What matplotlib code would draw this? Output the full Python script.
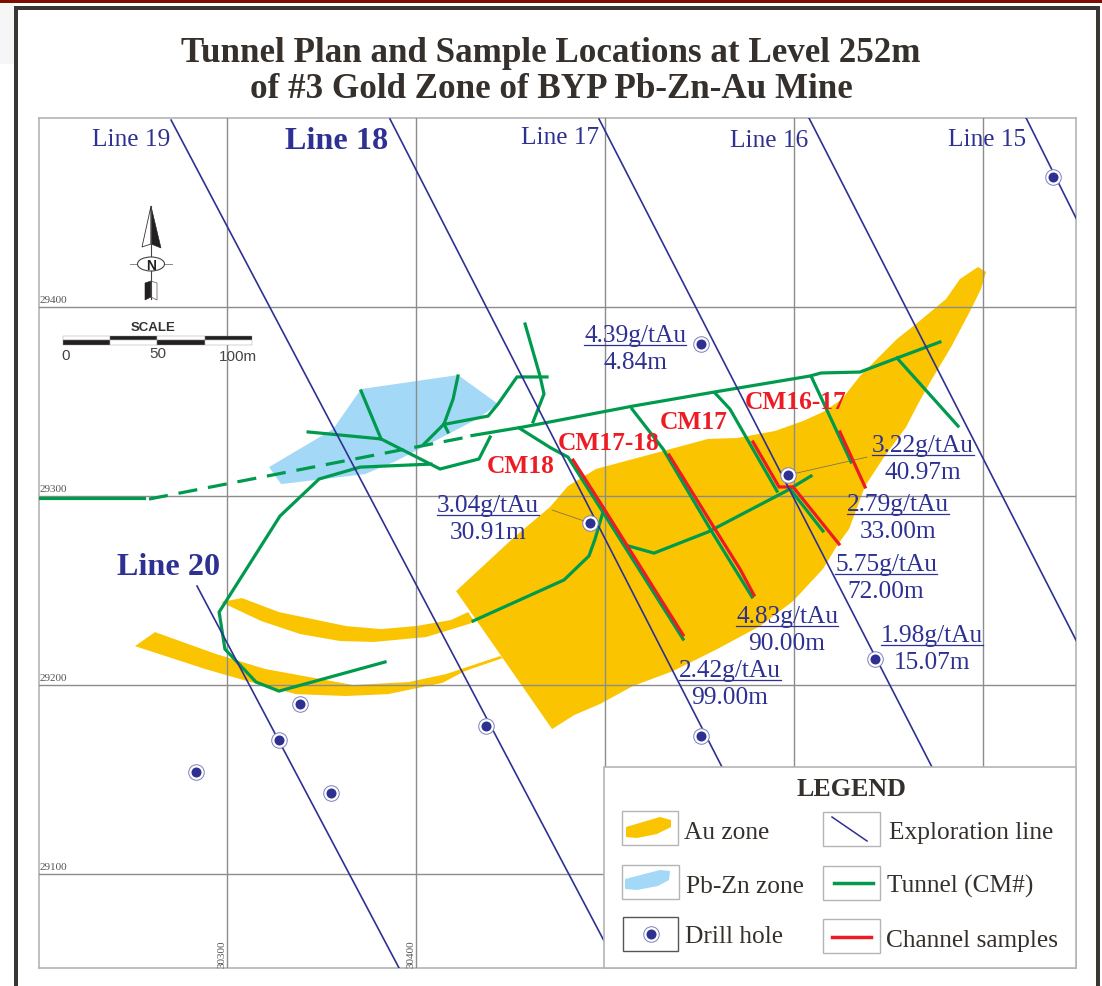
import matplotlib
matplotlib.use('Agg')
import matplotlib.pyplot as plt
from matplotlib.patches import Polygon, Rectangle, Ellipse

plt.rcParams['font.family'] = ['Liberation Serif', 'DejaVu Serif']

# all map coordinates are mine grid metres (easting, northing)
eastings = [30300, 30400, 30500, 30600, 30700]
northings = [29100, 29200, 29300, 29400]
easting_labels = ['30300', '30400']
northing_labels = ['29100', '29200', '29300', '29400']

au_main = [(30697.4, 29421.2), (30701.6, 29418.5), (30698.9, 29409.5), (30693.7, 29398.9), (30683.1, 29378.8),
           (30673.0, 29361.9), (30665.6, 29348.7), (30659.3, 29336.5), (30647.6, 29320.6), (30637.6, 29305.3),
           (30629.1, 29282.5), (30623.3, 29274.6), (30615.3, 29261.4), (30599.5, 29244.4), (30582.0, 29231.2),
           (30559.3, 29219.0), (30536.0, 29207.4), (30514.8, 29199.5), (30497.4, 29190.0), (30483.6, 29184.1),
           (30472.0, 29176.7), (30421.2, 29249.7), (30450.8, 29277.2), (30470.9, 29294.2), (30480.4, 29305.3),
           (30495.2, 29314.3), (30554.5, 29330.2), (30569.8, 29330.7), (30589.9, 29334.4), (30604.8, 29339.7),
           (30616.4, 29345.0), (30625.4, 29351.3), (30634.9, 29363.5), (30654.5, 29383.1), (30664.5, 29391.0),
           (30680.4, 29404.2), (30687.8, 29414.8)]
au_upper = [(30296.8, 29243.9), (30307.9, 29246.0), (30327.5, 29238.6), (30363.0, 29231.2), (30381.5, 29229.6),
            (30400.0, 29231.2), (30418.5, 29234.4), (30427.5, 29238.6), (30431.2, 29233.3), (30405.3, 29225.4),
            (30377.8, 29222.8), (30359.8, 29223.3), (30338.6, 29227.0), (30318.0, 29233.9)]
au_lower = [(30251.3, 29220.6), (30261.9, 29228.0), (30294.2, 29216.4), (30320.1, 29208.5), (30366.7, 29200.0),
            (30396.3, 29201.6), (30415.9, 29205.8), (30444.4, 29215.3), (30446.0, 29214.3), (30425.9, 29207.4),
            (30413.8, 29201.1), (30385.2, 29195.2), (30363.0, 29194.2), (30336.5, 29195.2), (30310.6, 29202.1),
            (30288.4, 29208.5)]
pbzn_zone = [(30370.9, 29356.6), (30422.2, 29364.0), (30443.4, 29348.7), (30432.3, 29340.7), (30389.4, 29318.5),
             (30373.0, 29311.6), (30328.6, 29306.3), (30322.2, 29315.3), (30356.1, 29335.4)]

tunnels = [
    [(30200.5, 29298.9), (30256.1, 29298.9)],
    [(30429.6, 29332.0), (30456.6, 29336.5), (30470.9, 29339.2), (30514.8, 29347.6), (30557.7, 29355.0),
     (30608.5, 29363.5), (30614.3, 29365.1), (30634.9, 29365.6), (30654.5, 29373.0), (30677.2, 29381.5)],
    [(30654.5, 29373.0), (30686.8, 29337.0)],
    [(30609.0, 29363.5), (30630.2, 29318.0)],
    [(30558.2, 29354.5), (30566.1, 29346.0), (30591.0, 29302.6)],
    [(30597.9, 29303.7), (30615.3, 29281.5)],
    [(30609.0, 29310.6), (30595.8, 29302.6), (30554.5, 29281.0), (30525.9, 29269.8), (30510.6, 29274.1)],
    [(30514.3, 29346.0), (30530.7, 29324.9), (30556.6, 29281.0), (30567.7, 29263.0), (30577.8, 29246.6)],
    [(30454.5, 29336.0), (30471.4, 29325.4), (30480.4, 29320.6), (30498.9, 29291.5), (30541.3, 29224.3)],
    [(30498.9, 29291.5), (30494.7, 29277.2), (30491.5, 29268.3), (30478.3, 29255.6), (30430.2, 29233.9)],
    [(30457.7, 29391.0), (30465.6, 29363.5), (30467.7, 29354.0), (30461.9, 29339.2)],
    [(30469.3, 29363.0), (30453.4, 29363.0), (30443.4, 29348.7), (30438.1, 29342.3), (30415.9, 29338.1)],
    [(30422.2, 29363.5), (30419.6, 29351.3), (30414.8, 29338.1), (30404.2, 29327.5)],
    [(30414.8, 29338.1), (30416.9, 29333.9)],
    [(30370.9, 29355.6), (30381.5, 29330.2)],
    [(30342.9, 29333.9), (30381.5, 29330.2), (30412.7, 29314.3), (30433.3, 29319.6), (30439.2, 29331.2)],
    [(30407.9, 29316.9), (30370.4, 29315.3), (30348.7, 29309.0), (30328.0, 29289.4), (30295.8, 29238.6),
     (30298.9, 29219.0), (30315.3, 29201.6), (30327.5, 29196.8), (30383.6, 29212.2)],
]
tunnel_dashed = [(30258.7, 29298.4), (30429.6, 29331.7)]

channels = [
    [(30483.1, 29319.0), (30498.9, 29294.2), (30541.3, 29226.5)],
    [(30533.9, 29321.7), (30558.2, 29282.5), (30571.4, 29261.4), (30578.8, 29247.6)],
    [(30578.3, 29328.6), (30592.1, 29304.8), (30599.5, 29304.8), (30623.8, 29274.6)],
    [(30624.3, 29333.9), (30637.6, 29304.8)],
]

exploration_lines = [
    [(30270.4, 29498.9), (30499.5, 29064.6)],
    [(30386.2, 29499.5), (30561.9, 29156.6)],
    [(30496.8, 29499.5), (30673.0, 29156.6)],
    [(30607.9, 29500.0), (30749.7, 29222.8)],
    [(30722.8, 29500.0), (30749.2, 29447.1)],
    [(30284.1, 29252.4), (30391.0, 29050.3)],
]
line_names = ['Line 19', 'Line 18', 'Line 17', 'Line 16', 'Line 15', 'Line 20']
line_name_e = [30249.0, 30358.0, 30476.2, 30586.8, 30702.1, 30268.8]
line_name_n = [29488.8, 29487.9, 29490.0, 29488.4, 29489.0, 29262.5]
line_name_bold = [False, True, False, False, False, True]

hole_e = [30737.0, 30550.8, 30596.8, 30492.1, 30642.9, 30550.8, 30437.0, 30338.6, 30327.5, 30283.6, 30355.0]
hole_n = [29468.8, 29380.4, 29311.1, 29285.7, 29213.8, 29173.0, 29178.3, 29190.0, 29170.9, 29154.0, 29142.9]
leaders = [[(30596.8, 29311.1), (30638.6, 29320.6)], [(30492.1, 29285.7), (30472.0, 29292.6)]]

grades = ['4.39g/tAu', '3.22g/tAu', '2.79g/tAu', '5.75g/tAu', '4.83g/tAu', '1.98g/tAu', '2.42g/tAu', '3.04g/tAu']
widths = ['4.84m', '40.97m', '33.00m', '72.00m', '90.00m', '15.07m', '99.00m', '30.91m']
assay_e = [30515.9, 30668.3, 30654.8, 30648.7, 30596.3, 30673.0, 30566.1, 30438.1]
assay_n = [29379.9, 29321.7, 29290.5, 29258.7, 29231.2, 29221.2, 29202.6, 29290.0]

cm_names = ['CM18', 'CM17-18', 'CM17', 'CM16-17']
cm_e = [30455.6, 30502.1, 30547.1, 30601.1]
cm_n = [29315.9, 29328.1, 29339.2, 29349.8]

scale_start = 30213.2
scale_step = 25

NAVY = '#2e3192'
GREEN = '#009a4e'
RED = '#ed1c24'
GOLD = '#fac400'
BLUE = '#a3d9f6'
INK = '#35302c'

fig = plt.figure(figsize=(11.02, 9.87), dpi=100)
ax = fig.add_axes([39/1102, 1-969/987, (1076-39)/1102, 850/987])
ax.set_xlim(30200.5, 30749.2)
ax.set_ylim(29050.3, 29500)
ax.set_xticks(eastings)
ax.set_yticks(northings)
ax.set_xticklabels([])
ax.set_yticklabels([])
ax.tick_params(length=0)
ax.set_axisbelow(False)
ax.grid(color='#8c8c8c', lw=1.0)
for s in ax.spines.values():
    s.set_color('#b4b4b4')
    s.set_linewidth(1.2)

for poly in [au_main, au_upper, au_lower]:
    ax.add_patch(Polygon(poly, fc=GOLD, ec='none', zorder=1))
ax.add_patch(Polygon(pbzn_zone, fc=BLUE, ec='none', zorder=1))

for seg in leaders:
    ax.plot(*zip(*seg), color='#666666', lw=0.5, zorder=3)
for seg in tunnels:
    ax.plot(*zip(*seg), color=GREEN, lw=2.3, zorder=3, solid_joinstyle='miter')
ax.plot(*zip(*tunnel_dashed), color=GREEN, lw=2.3, zorder=3, dashes=(6, 3.4))
for seg in channels:
    ax.plot(*zip(*seg), color=RED, lw=2.3, zorder=3.5, solid_joinstyle='miter')
for seg in exploration_lines:
    ax.plot(*zip(*seg), color=NAVY, lw=1.2, zorder=4)

ax.scatter(hole_e, hole_n, s=125, fc='white', ec='#7c7ebb', lw=0.7, zorder=4.5)
ax.scatter(hole_e, hole_n, s=52, color=NAVY, lw=0, zorder=5)

for name, e, n, bold in zip(line_names, line_name_e, line_name_n, line_name_bold):
    ax.text(e, n, name, color=NAVY, ha='center', va='center', zorder=6,
            fontsize=23.2 if bold else 18.3, fontweight='bold' if bold else 'normal')
for g, w, e, n in zip(grades, widths, assay_e, assay_n):
    ax.plot([e-27, e+27], [n, n], color=NAVY, lw=0.9, zorder=6)
    ax.annotate(g, (e, n), xytext=(0, 7.5), textcoords='offset points', ha='center', va='center',
                color=NAVY, fontsize=18.3, zorder=6)
    ax.annotate(w, (e, n), xytext=(0, -12), textcoords='offset points', ha='center', va='center',
                color=NAVY, fontsize=18.3, zorder=6)
for name, e, n in zip(cm_names, cm_e, cm_n):
    ax.text(e, n, name, color=RED, ha='center', va='center', fontsize=18.4, fontweight='bold', zorder=6)

# grid labels sit inside the frame
for lab, n in zip(northing_labels, northings):
    ax.annotate(lab, (30200.5, n), xytext=(0.5, 2.5), textcoords='offset points', fontsize=8,
                color='#555555', va='bottom')
for lab, e in zip(easting_labels, eastings):
    ax.annotate(lab, (e, 29050.3), xytext=(-0.5, 1), textcoords='offset points', fontsize=8,
                color='#555555', rotation=90, ha='right', va='bottom')

# scale bar
for i in range(4):
    x0 = scale_start + i*scale_step
    upper = '#231f20' if i % 2 else 'white'
    lower = 'white' if i % 2 else '#231f20'
    ax.add_patch(Rectangle((x0, 29382.3), scale_step, 2.4, fc=upper, ec='#999999', lw=0.3, zorder=4))
    ax.add_patch(Rectangle((x0, 29379.9), scale_step, 2.4, fc=lower, ec='#999999', lw=0.3, zorder=4))

# everything below is page furniture, drawn in pixels on a full-figure overlay
ov = fig.add_axes([0, 0, 1, 1], facecolor='none')
ov.set_xlim(0, 1102)
ov.set_ylim(987, 0)
ov.axis('off')

ov.add_patch(Rectangle((0, 0), 14, 65, fc='#f6f6f6', ec='none'))
ov.add_patch(Rectangle((0, 0), 1102, 4, fc='#7c0f02', ec='none'))
ov.add_patch(Rectangle((14, 7), 1085, 3.5, fc='#3a3632', ec='none'))
ov.add_patch(Rectangle((14, 7), 3.5, 980, fc='#3a3632', ec='none'))
ov.add_patch(Rectangle((1096, 7), 3.5, 980, fc='#3a3632', ec='none'))

ov.text(551, 53, 'Tunnel Plan and Sample Locations at Level 252m', ha='center', va='center',
        fontsize=25.2, fontweight='bold', color=INK)
ov.text(551, 90, 'of #3 Gold Zone of BYP Pb-Zn-Au Mine', ha='center', va='center',
        fontsize=25.2, fontweight='bold', color=INK)

# north arrow
ov.plot([151, 151], [207, 300], color='#444444', lw=0.8)
ov.add_patch(Polygon([(151, 207), (142, 248), (151, 245)], fc='white', ec='#333333', lw=0.6))
ov.add_patch(Polygon([(151, 207), (161, 249), (151, 245)], fc='#231f20', ec='#231f20', lw=0.4))
ov.plot([130, 172], [265, 265], color='#888888', lw=0.7)
ov.add_patch(Ellipse((151, 265), 27, 14, fc='white', ec='#444444', lw=0.8, zorder=3))
ov.text(151, 265.5, 'N', ha='center', va='center', fontsize=10, fontweight='bold', color='#231f20',
        family='Liberation Sans', zorder=4)
ov.add_patch(Polygon([(145, 284), (151, 282), (151, 298), (145, 301)], fc='#231f20', ec='#231f20', lw=0.4))
ov.add_patch(Polygon([(157, 284), (151, 282), (151, 298), (157, 301)], fc='white', ec='#555555', lw=0.5))

ov.text(153, 328, 'SCALE', ha='center', va='center', fontsize=9.5, color='#333333',
        family='Liberation Sans', fontweight='bold')
for lab, x, y in [('0', 66, 356), ('50', 158, 354), ('100m', 238, 357)]:
    ov.text(x, y, lab, ha='center', va='center', fontsize=11, color='#444444', family='Liberation Sans')

# legend
ov.add_patch(Rectangle((604, 768), 472, 201, fc='white', ec='#b4b4b4', lw=1.2))
ov.text(851, 790, 'LEGEND', ha='center', va='center', fontsize=18.7, fontweight='bold', color=INK)
for x0, y0, x1, y1, edge in [(622, 812, 678, 846, '#b4b4b4'), (622, 866, 679, 900, '#b4b4b4'),
                             (623, 918, 678, 952, '#555555'), (823, 813, 880, 847, '#b4b4b4'),
                             (823, 867, 880, 901, '#b4b4b4'), (823, 920, 880, 954, '#b4b4b4')]:
    ov.add_patch(Rectangle((x0, y0), x1-x0, y1-y0, fc='white', ec=edge, lw=1))
ov.add_patch(Polygon([(626, 828), (660, 818), (671, 821), (671, 828), (657, 835), (637, 839), (626, 838)],
                     fc=GOLD, ec='none'))
ov.add_patch(Polygon([(625, 880), (660, 871), (670, 872), (669, 881), (658, 887), (637, 891), (625, 890)],
                     fc=BLUE, ec='none'))
ov.scatter([651], [935], s=125, fc='white', ec='#7c7ebb', lw=0.7)
ov.scatter([651], [935], s=52, color=NAVY, lw=0)
ov.plot([832, 867], [818, 842], color=NAVY, lw=1.1)
ov.plot([834, 873], [884, 884], color=GREEN, lw=2.5)
ov.plot([832, 871], [938, 938], color=RED, lw=2.5)
for lab, x, y in [('Au zone', 684, 833), ('Pb-Zn zone', 686, 887), ('Drill hole', 685, 937),
                  ('Exploration line', 889, 833), ('Tunnel (CM#)', 887, 886), ('Channel samples', 886, 941)]:
    ov.text(x, y, lab, ha='left', va='center', fontsize=18.3, color=INK)

fig.savefig('out.png', dpi=100)
